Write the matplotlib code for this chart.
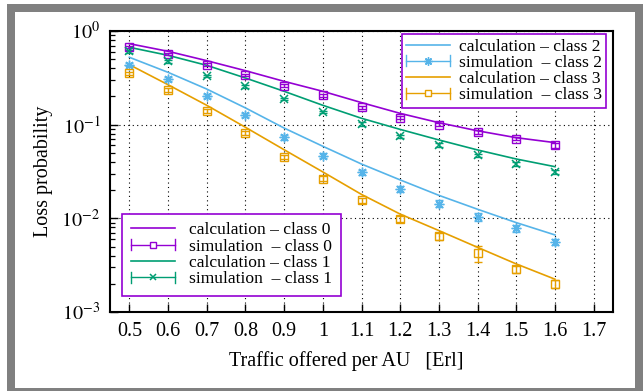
import matplotlib
matplotlib.use("Agg")
import matplotlib.pyplot as plt
from matplotlib.patches import Rectangle
from matplotlib.lines import Line2D
from matplotlib.legend_handler import HandlerBase
from matplotlib.ticker import LogLocator, NullFormatter, FixedLocator

# ---------------- data ----------------
traffic = [0.5, 0.6, 0.7, 0.8, 0.9, 1.0, 1.1, 1.2, 1.3, 1.4, 1.5, 1.6]

calc_class0 = [0.732, 0.607, 0.482, 0.377, 0.290, 0.227, 0.172, 0.132, 0.105, 0.086, 0.0726, 0.0643]
sim_class0 = [0.675, 0.568, 0.437, 0.337, 0.261, 0.206, 0.153, 0.119, 0.100, 0.0836, 0.071, 0.060]
err_class0 = [0.03, 0.03, 0.03, 0.03, 0.03, 0.03, 0.03, 0.04, 0.04, 0.04, 0.04, 0.05]

calc_class1 = [0.67, 0.55, 0.43, 0.315, 0.227, 0.161, 0.117, 0.089, 0.0687, 0.0537, 0.043, 0.0356]
sim_class1 = [0.607, 0.475, 0.333, 0.257, 0.188, 0.137, 0.1017, 0.075, 0.0607, 0.0471, 0.0383, 0.0315]
err_class1 = [0.03, 0.03, 0.03, 0.03, 0.03, 0.03, 0.04, 0.04, 0.04, 0.04, 0.05, 0.05]

calc_class2 = [0.524, 0.362, 0.240, 0.151, 0.092, 0.0588, 0.038, 0.0257, 0.0176, 0.0125, 0.0090, 0.00665]
sim_class2 = [0.437, 0.308, 0.201, 0.126, 0.0733, 0.0467, 0.031, 0.0207, 0.0144, 0.0104, 0.0078, 0.0056]
err_class2 = [0.04, 0.04, 0.05, 0.05, 0.06, 0.06, 0.07, 0.08, 0.08, 0.10, 0.08, 0.08]

calc_class3 = [0.437, 0.267, 0.161, 0.0938, 0.054, 0.0313, 0.0180, 0.0111, 0.0074, 0.0049, 0.00326, 0.00224]
sim_class3 = [0.353, 0.235, 0.139, 0.0822, 0.0452, 0.0265, 0.0157, 0.0099, 0.0064, 0.00424, 0.00286, 0.0020]
err_class3 = [0.04, 0.04, 0.05, 0.05, 0.05, 0.06, 0.06, 0.07, 0.08, 0.19, 0.08, 0.10]

x_ticks = [0.5, 0.6, 0.7, 0.8, 0.9, 1.0, 1.1, 1.2, 1.3, 1.4, 1.5, 1.6, 1.7]
x_tick_labels = ["0.5", "0.6", "0.7", "0.8", "0.9", "1", "1.1", "1.2", "1.3", "1.4", "1.5", "1.6", "1.7"]
y_ticks = [1e-3, 1e-2, 1e-1, 1e0]
y_tick_labels = [r"$10^{-3}$", r"$10^{-2}$", r"$10^{-1}$", r"$10^{0}$"]

labels_top = ["calculation – class 2", "simulation  – class 2",
              "calculation – class 3", "simulation  – class 3"]
labels_bottom = ["calculation – class 0", "simulation  – class 0",
                 "calculation – class 1", "simulation  – class 1"]

# ---------------- style ----------------
plt.rcParams['font.family'] = ['Liberation Serif', 'DejaVu Serif']
plt.rcParams['mathtext.fontset'] = 'stix'

PURPLE = "#9400D3"
GREEN = "#009E73"
BLUE = "#56B4E9"
ORANGE = "#E69F00"

W, H = 643, 391
fig = plt.figure(figsize=(W / 100, H / 100), dpi=100)
fig.patch.set_facecolor("white")

# gray frame around the figure
fig.patches.append(Rectangle((7 / W, 0), (W - 7) / W, (H - 4) / H, transform=fig.transFigure,
                             facecolor="#808080", edgecolor="none", zorder=-10))
fig.patches.append(Rectangle((15 / W, 3 / H), 620 / W, 376 / H, transform=fig.transFigure,
                             facecolor="white", edgecolor="none", zorder=-9))

ax = fig.add_axes([110 / W, 1 - 312 / H, 503 / W, 281 / H])
ax.set_yscale("log")
ax.set_xlim(0.45, 1.75)
ax.set_ylim(1e-3, 1e0)

specs = [
    (calc_class0, sim_class0, err_class0, PURPLE, "s", 5.5, 1.0),
    (calc_class1, sim_class1, err_class1, GREEN, "x", 5.5, 1.1),
    (calc_class2, sim_class2, err_class2, BLUE, (8, 2, 0), 7, 1.0),
    (calc_class3, sim_class3, err_class3, ORANGE, "s", 5.5, 1.0),
]

for calc, sim, err, col, mk, ms, mew in specs:
    ax.plot(traffic, calc, color=col, lw=1.2, zorder=3)
    yerr = [[v * e for v, e in zip(sim, err)], [v * e for v, e in zip(sim, err)]]
    ax.errorbar(traffic, sim, yerr=yerr, fmt="none", ecolor=col, elinewidth=1.0,
                capsize=3.2, capthick=1.0, zorder=4)
    ax.plot(traffic, sim, linestyle="none", marker=mk, markersize=ms,
            markerfacecolor="none", markeredgecolor=col, markeredgewidth=mew, zorder=5)

# ticks
ax.xaxis.set_major_locator(FixedLocator(x_ticks))
ax.set_xticklabels(x_tick_labels)
ax.yaxis.set_major_locator(FixedLocator(y_ticks))
ax.set_yticklabels(y_tick_labels)
ax.yaxis.set_minor_locator(LogLocator(base=10, subs=[2, 3, 4, 5, 6, 7, 8, 9]))
ax.yaxis.set_minor_formatter(NullFormatter())
ax.tick_params(which="major", direction="in", length=6, width=1.0, labelsize=14.5,
               colors="black", top=False, right=False)
ax.tick_params(which="minor", direction="in", length=3.5, width=0.9, top=False, right=False)
ax.tick_params(axis="x", pad=7)
ax.tick_params(axis="y", pad=7)
ax.xaxis.set_minor_locator(FixedLocator([]))

ax.grid(True, which="major", color="black", linestyle=(0, (1, 3)), linewidth=0.8)
for sp in ax.spines.values():
    sp.set_linewidth(1.5)
    sp.set_color("black")

ax.set_xlabel("Traffic offered per AU   [Erl]", fontsize=14.5)
ax.set_ylabel("Loss probability", fontsize=14.5)
ax.xaxis.set_label_coords((346 - 110) / 503, -(351 - 312) / 281)
ax.yaxis.set_label_coords((53 - 110) / 503, 0.5)


# legend handler: horizontal line with end caps and marker in the middle
class HandlerCapLine(HandlerBase):
    def create_artists(self, legend, orig_handle, xdescent, ydescent, width, height,
                       fontsize, trans):
        y = height / 2 - ydescent
        x0, x1 = -xdescent, width - xdescent
        col = orig_handle.get_color()
        h = 4.0
        arts = [
            Line2D([x0, x1], [y, y], color=col, lw=1.0),
            Line2D([x0, x0], [y - h, y + h], color=col, lw=1.0),
            Line2D([x1, x1], [y - h, y + h], color=col, lw=1.0),
            Line2D([(x0 + x1) / 2], [y], linestyle="none", marker=orig_handle.get_marker(),
                   markersize=orig_handle.get_markersize(), markerfacecolor="white",
                   markeredgecolor=col, markeredgewidth=orig_handle.get_markeredgewidth()),
        ]
        for a in arts:
            a.set_transform(trans)
        return arts


def make_handles(c_a, m_a, ms_a, mew_a, c_b, m_b, ms_b, mew_b):
    calc_a = Line2D([], [], color=c_a, lw=1.2)
    sim_a = Line2D([], [], color=c_a, marker=m_a, markersize=ms_a, markeredgewidth=mew_a)
    calc_b = Line2D([], [], color=c_b, lw=1.2)
    sim_b = Line2D([], [], color=c_b, marker=m_b, markersize=ms_b, markeredgewidth=mew_b)
    return [calc_a, sim_a, calc_b, sim_b]


LEG_FS = 12.6

h_top = make_handles(BLUE, (8, 2, 0), 6, 1.0, ORANGE, "s", 5, 1.0)
leg1 = ax.legend(h_top, labels_top, loc="upper right",
                 bbox_to_anchor=(606 / W, 1 - 34 / H), bbox_transform=fig.transFigure,
                 fontsize=LEG_FS, frameon=True, fancybox=False, borderpad=0.25,
                 labelspacing=0.0, handlelength=2.5, handletextpad=0.5,
                 borderaxespad=0, handler_map={h_top[1]: HandlerCapLine(), h_top[3]: HandlerCapLine()})
leg1.get_frame().set_edgecolor(PURPLE)
leg1.get_frame().set_linewidth(1.2)
leg1.get_frame().set_alpha(None)
leg1.get_frame().set_facecolor("white")
leg1.set_zorder(10)
ax.add_artist(leg1)

h_bot = make_handles(PURPLE, "s", 5, 1.0, GREEN, "x", 5, 1.1)
leg2 = ax.legend(h_bot, labels_bottom, loc="lower left",
                 bbox_to_anchor=(122 / W, 1 - 296 / H), bbox_transform=fig.transFigure,
                 fontsize=LEG_FS, frameon=True, fancybox=False, borderpad=0.5,
                 labelspacing=0.0, handlelength=2.5, handletextpad=0.85,
                 borderaxespad=0, handler_map={h_bot[1]: HandlerCapLine(), h_bot[3]: HandlerCapLine()})
leg2.get_frame().set_edgecolor(PURPLE)
leg2.get_frame().set_linewidth(1.2)
leg2.get_frame().set_alpha(None)
leg2.get_frame().set_facecolor("white")
leg2.set_zorder(10)

fig.savefig("out.png", dpi=100)
